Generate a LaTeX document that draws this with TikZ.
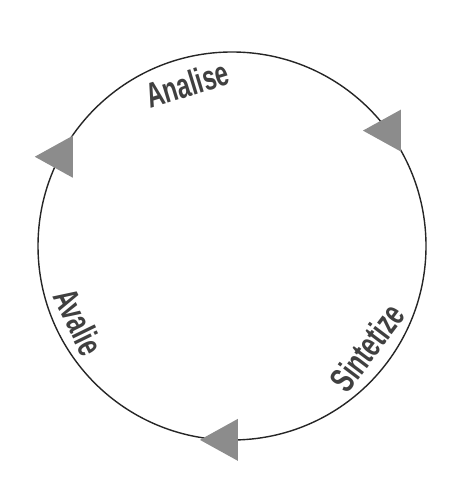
\documentclass[tikz,border=0pt]{standalone}
\usepackage{fontspec}
\newfontfamily\labelfont[FakeStretch=0.68]{Liberation Sans}
\usepackage{tikz}
\usetikzlibrary{positioning, calc}

\begin{document}
\begin{tikzpicture}[
    x=0.02cm, y=0.02cm,
    ring/.style={draw, black!85, line width=0.8pt},
    marker/.style={fill=black!45, draw=none},
    stage/.style={font=\labelfont\bfseries\fontsize{20}{20}\selectfont, text=black!75, inner sep=0pt},
]
  \useasboundingbox (0,0) rectangle (461,489);
  \coordinate (o) at (232,243);

  \draw[ring] (o) circle[radius=194];

  % markers sitting on the ring
  \coordinate (t1) at ($(o)+(152.6:194)$);
  \coordinate (t2) at ($(o)+(36.5:194)$);
  \coordinate (t3) at ($(o)+(-92.1:194)$);
  \fill[marker] ([shift={(-25,0)}]t1) -- ([shift={(13,21)}]t1) -- ([shift={(13,-21)}]t1) -- cycle;
  \fill[marker] ([shift={(-25,0)}]t2) -- ([shift={(13,21)}]t2) -- ([shift={(13,-21)}]t2) -- cycle;
  \fill[marker] ([shift={(-25,0)}]t3) -- ([shift={(13,21)}]t3) -- ([shift={(13,-21)}]t3) -- cycle;

  \node[stage, rotate=17] (analise) at ($(o)+(105.4:168)$) {Analise};
  \node[stage, rotate=53] (sintetize) at ($(o)+(-36.9:169)$) {Sintetize};
  \node[stage, rotate=-64] (avalie) at ($(o)+(206.3:171)$) {Avalie};
\end{tikzpicture}
\end{document}
